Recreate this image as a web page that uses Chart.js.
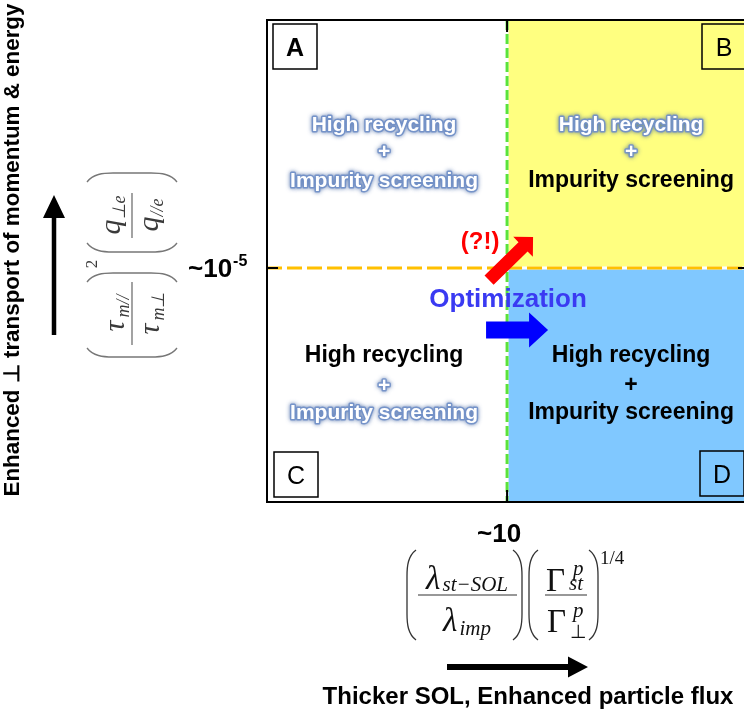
<!DOCTYPE html>
<html>
<head>
<meta charset="utf-8">
<script src="https://cdn.jsdelivr.net/npm/chart.js@4/dist/chart.umd.min.js"></script>
<style>
html,body{margin:0;padding:0;background:#fff;}
#wrap{width:744px;height:713px;position:relative;}
</style>
</head>
<body>
<div id="wrap"><canvas id="c" width="744" height="713"></canvas></div>
<script>
// ---- data ----
const xThreshold = 10;          // ~10
const yThreshold = 1e-5;        // ~10^-5
const xBounds = [0.97, 100];
const yBounds = [1e-7, 1.32e-3];
const quadrantIds = ['A', 'B', 'C', 'D'];
const quadrantTerms = ['High recycling', '+', 'Impurity screening'];
// 1 = emphasised (black), 0 = faded
const quadrantActive = [[0, 0, 0], [0, 0, 1], [1, 0, 0], [1, 1, 1]];
const quadrantColors = ['#ffffff', '#ffff80', '#ffffff', '#80c8ff'];
const xThresholdLabel = '~10';
const yThresholdLabel = ['~10', '-5'];
const yAxisTitle = 'Enhanced \u22A5 transport of momentum & energy';
const xAxisTitle = 'Thicker SOL, Enhanced particle flux';
const arrowLabels = ['(?!)', 'Optimization'];

const SANS = '"Liberation Sans", Arial, sans-serif';
const SERIF = '"Liberation Serif", "Times New Roman", serif';

function blockArrow(ctx, x1, y1, x2, y2, shaftW, headW, headL, color) {
  const dx = x2 - x1, dy = y2 - y1, L = Math.hypot(dx, dy);
  ctx.save();
  ctx.translate(x1, y1);
  ctx.rotate(Math.atan2(dy, dx));
  ctx.beginPath();
  ctx.moveTo(0, -shaftW / 2);
  ctx.lineTo(L - headL, -shaftW / 2);
  ctx.lineTo(L - headL, -headW / 2);
  ctx.lineTo(L, 0);
  ctx.lineTo(L - headL, headW / 2);
  ctx.lineTo(L - headL, shaftW / 2);
  ctx.lineTo(0, shaftW / 2);
  ctx.closePath();
  ctx.fillStyle = color;
  ctx.fill();
  ctx.restore();
}

function fadedText(ctx, t, x, y, size) {
  ctx.save();
  ctx.font = 'bold ' + size + 'px ' + SANS;
  ctx.textAlign = 'center';
  ctx.lineJoin = 'round';
  ctx.shadowColor = 'rgba(60,95,160,0.85)';
  ctx.shadowBlur = 4;
  ctx.strokeStyle = 'rgba(115,145,200,0.95)';
  ctx.lineWidth = 3;
  ctx.strokeText(t, x, y);
  ctx.shadowBlur = 0;
  ctx.shadowColor = 'rgba(0,0,0,0)';
  ctx.fillStyle = '#ffffff';
  ctx.fillText(t, x, y);
  ctx.restore();
}

function solidText(ctx, t, x, y, size) {
  ctx.save();
  ctx.font = 'bold ' + size + 'px ' + SANS;
  ctx.textAlign = 'center';
  ctx.fillStyle = '#000';
  ctx.fillText(t, x, y);
  ctx.restore();
}

// parts: [text, size, italic, dy, advance(optional, in em)]
function partWidth(ctx, p) {
  if (p[4] !== undefined) return p[4] * p[1];
  ctx.font = (p[2] ? 'italic ' : '') + p[1] + 'px ' + SERIF;
  return ctx.measureText(p[0]).width;
}
function drawRun(ctx, parts, cx, y) {
  let w = 0;
  for (const p of parts) w += partWidth(ctx, p);
  let x = cx - w / 2;
  ctx.textAlign = 'left';
  for (const p of parts) {
    const pw = partWidth(ctx, p);
    ctx.font = (p[2] ? 'italic ' : '') + p[1] + 'px ' + SERIF;
    ctx.fillText(p[0], x, y + (p[3] || 0));
    x += pw;
  }
}
function paren(ctx, x, yTop, yBot, dir, bulge) {
  ctx.beginPath();
  ctx.moveTo(x + dir * bulge, yTop);
  ctx.bezierCurveTo(x + dir * 1, yTop + 6, x, yTop + 16, x, yTop + 26);
  ctx.lineTo(x, yBot - 26);
  ctx.bezierCurveTo(x, yBot - 16, x + dir * 1, yBot - 6, x + dir * bulge, yBot);
  ctx.stroke();
}

const diagramPlugin = {
  id: 'diagram',
  afterDatasetsDraw(chart) {
    const ctx = chart.ctx;
    const a = chart.chartArea;
    const xs = chart.scales.x, ys = chart.scales.y;
    const mx = xs.getPixelForValue(xThreshold);
    const my = ys.getPixelForValue(yThreshold);
    ctx.save();
    ctx.textBaseline = 'alphabetic';

    // frame (right side runs off the page)
    ctx.strokeStyle = '#000';
    ctx.lineWidth = 2;
    ctx.beginPath();
    ctx.moveTo(a.right + 10, a.top);
    ctx.lineTo(a.left, a.top);
    ctx.lineTo(a.left, a.bottom);
    ctx.lineTo(a.right + 10, a.bottom);
    ctx.stroke();
    // inner tick marks at thresholds
    ctx.beginPath();
    ctx.moveTo(mx, a.top); ctx.lineTo(mx, a.top + 12);
    ctx.moveTo(mx, a.bottom); ctx.lineTo(mx, a.bottom - 12);
    ctx.moveTo(a.left, my); ctx.lineTo(a.left + 11, my);
    ctx.moveTo(a.right, my); ctx.lineTo(a.right - 6, my);
    ctx.stroke();

    // quadrant texts
    const cxL = (a.left + mx) / 2 - 3;
    const cxR = mx + 124;
    const topRows = [my - 137, my - 110, my - 81];
    const botRows = [my + 94, my + 124, my + 151];
    const anchors = [[cxL, topRows], [cxR, topRows], [cxL, botRows], [cxR, botRows]];
    quadrantIds.forEach((id, qi) => {
      const [cx, rows] = anchors[qi];
      quadrantTerms.forEach((t, ti) => {
        if (quadrantActive[qi][ti]) solidText(ctx, t, cx, rows[ti], 23);
        else fadedText(ctx, t, cx, rows[ti], 21);
      });
    });

    // corner label boxes
    const boxW = 44, boxH = 45;
    const boxes = [
      [a.left + 6, a.top + 4],
      [a.right - 42, a.top + 4],
      [a.left + 7, a.bottom - 50],
      [a.right - 44, a.bottom - 51]
    ];
    quadrantIds.forEach((id, i) => {
      const [bx, by] = boxes[i];
      ctx.lineWidth = 1.5;
      ctx.strokeStyle = '#000';
      ctx.strokeRect(bx, by, boxW, boxH);
      ctx.fillStyle = '#000';
      ctx.textAlign = 'center';
      ctx.font = (i === 0 ? 'bold ' : '') + '25px ' + SANS;
      ctx.fillText(id, bx + boxW / 2, by + boxH / 2 + 9);
    });

    // arrows in the plot
    blockArrow(ctx, mx - 18, my + 12, mx + 26, my - 31, 13, 28, 14, '#ff0000');
    blockArrow(ctx, mx - 21, my + 62, mx + 41, my + 62, 17, 35, 19, '#0000ff');
    ctx.textAlign = 'center';
    ctx.fillStyle = '#ff0000';
    ctx.font = 'bold 24px ' + SANS;
    ctx.fillText(arrowLabels[0], mx - 27, my - 19);
    ctx.fillStyle = '#3a3af2';
    ctx.font = 'bold 26px ' + SANS;
    ctx.fillText(arrowLabels[1], mx + 1, my + 39);

    // threshold labels
    ctx.fillStyle = '#000';
    ctx.textAlign = 'left';
    ctx.font = 'bold 26px ' + SANS;
    ctx.fillText(yThresholdLabel[0], 188, my + 9);
    const w10 = ctx.measureText(yThresholdLabel[0]).width;
    ctx.font = 'bold 16px ' + SANS;
    ctx.fillText(yThresholdLabel[1], 188 + w10 + 1, my - 2);
    ctx.textAlign = 'center';
    ctx.font = 'bold 26px ' + SANS;
    ctx.fillText(xThresholdLabel, mx - 8, a.bottom + 40);

    // y-axis title (fit to reference length)
    ctx.save();
    ctx.translate(19, 250);
    ctx.rotate(-Math.PI / 2);
    ctx.font = 'bold 23px ' + SANS;
    const tw = ctx.measureText(yAxisTitle).width;
    const fs = Math.min(23, 23 * 494 / tw);
    ctx.font = 'bold ' + fs.toFixed(1) + 'px ' + SANS;
    ctx.textAlign = 'center';
    ctx.fillText(yAxisTitle, 0, 0);
    ctx.restore();
    blockArrow(ctx, 54, 335, 54, 195, 4.5, 22, 23, '#000');

    // y formula (rotated)
    ctx.save();
    ctx.translate(132, 265);
    ctx.rotate(-Math.PI / 2);
    ctx.fillStyle = '#3a3a3a';
    ctx.strokeStyle = '#777';
    ctx.lineWidth = 1.3;
    paren(ctx, -92, -45, 45, 1, 9);
    paren(ctx, -8, -45, 45, -1, 9);
    paren(ctx, 13, -45, 45, 1, 9);
    paren(ctx, 92, -45, 45, -1, 9);
    ctx.lineWidth = 1.2;
    ctx.strokeStyle = '#666';
    ctx.beginPath();
    ctx.moveTo(-80, 0); ctx.lineTo(-17, 0);
    ctx.moveTo(27, 0); ctx.lineTo(72, 0);
    ctx.stroke();
    drawRun(ctx, [['\u03C4', 30, true, 0, 0.46], ['m//', 18, true, 5]], -48, -8);
    drawRun(ctx, [['\u03C4', 30, true, 0, 0.46], ['m\u22A5', 18, true, 5]], -48, 27);
    drawRun(ctx, [['q', 30, true, 0], ['\u22A5e', 18, true, 5]], 50, -12);
    drawRun(ctx, [['q', 30, true, 0], ['//e', 18, true, 5]], 50, 26);
    drawRun(ctx, [['2', 17, false, 0]], 1, -35);
    ctx.restore();

    // x formula
    ctx.save();
    ctx.fillStyle = '#111';
    ctx.strokeStyle = '#333';
    ctx.lineWidth = 1.3;
    paren(ctx, 407, 550, 640, 1, 9);
    paren(ctx, 522, 550, 640, -1, 9);
    paren(ctx, 529, 550, 640, 1, 9);
    paren(ctx, 598, 550, 640, -1, 9);
    ctx.lineWidth = 1.2;
    ctx.beginPath();
    ctx.moveTo(418, 595); ctx.lineTo(517, 595);
    ctx.moveTo(545, 595); ctx.lineTo(587, 595);
    ctx.stroke();
    drawRun(ctx, [['\u03BB', 33, true, 0, 0.5], ['st\u2212SOL', 21, true, 2]], 467, 589);
    drawRun(ctx, [['\u03BB', 33, true, 0, 0.5], ['imp', 21, true, 4]], 467, 631);
    ctx.textAlign = 'left';
    ctx.font = '33px ' + SERIF;
    ctx.fillText('\u0393', 546, 591);
    ctx.fillText('\u0393', 547, 632);
    ctx.font = 'italic 21px ' + SERIF;
    ctx.fillText('p', 573, 575);
    ctx.fillText('st', 569, 590);
    ctx.fillText('p', 573, 617);
    ctx.font = '19px ' + SERIF;
    ctx.fillText('\u22A5', 570, 638);
    ctx.fillText('1/4', 600, 564);
    ctx.restore();

    // x-axis title & arrow
    blockArrow(ctx, 447, 667, 588, 667, 6, 21, 20, '#000');
    ctx.fillStyle = '#000';
    ctx.textAlign = 'center';
    ctx.font = 'bold 24px ' + SANS;
    ctx.fillText(xAxisTitle, 528, 704);

    ctx.restore();
  }
};

const lineBase = { showLine: true, pointRadius: 0, borderCapStyle: 'butt', tension: 0 };

new Chart(document.getElementById('c'), {
  type: 'scatter',
  data: {
    datasets: [
      Object.assign({}, lineBase, {
        data: [{ x: xThreshold, y: yThreshold }, { x: xBounds[1], y: yThreshold }],
        fill: 'end', backgroundColor: quadrantColors[1], borderWidth: 0, order: 5
      }),
      Object.assign({}, lineBase, {
        data: [{ x: xThreshold, y: yThreshold }, { x: xBounds[1], y: yThreshold }],
        fill: 'start', backgroundColor: quadrantColors[3], borderWidth: 0, order: 5
      }),
      Object.assign({}, lineBase, {
        data: [{ x: xThreshold, y: yBounds[0] }, { x: xThreshold, y: yBounds[1] }],
        borderColor: '#ffffff', borderWidth: 3, fill: false, order: 4
      }),
      Object.assign({}, lineBase, {
        data: [{ x: xBounds[0], y: yThreshold }, { x: xBounds[1], y: yThreshold }],
        borderColor: '#ffffff', borderWidth: 3, fill: false, order: 4
      }),
      Object.assign({}, lineBase, {
        data: [{ x: xThreshold, y: yBounds[1] }, { x: xThreshold, y: yBounds[0] }],
        borderColor: '#5be33a', borderWidth: 3, borderDash: [10, 4], fill: false, order: 2
      }),
      Object.assign({}, lineBase, {
        data: [{ x: xBounds[0], y: yThreshold }, { x: xBounds[1], y: yThreshold }],
        borderColor: '#ffc000', borderWidth: 3, borderDash: [15, 5], fill: false, order: 1
      })
    ]
  },
  options: {
    responsive: false,
    animation: false,
    devicePixelRatio: 1,
    layout: { padding: { left: 267, top: 20, right: 0, bottom: 211 } },
    scales: {
      x: { type: 'logarithmic', min: xBounds[0], max: xBounds[1], display: false },
      y: { type: 'logarithmic', min: yBounds[0], max: yBounds[1], display: false }
    },
    plugins: { legend: { display: false }, tooltip: { enabled: false } },
    events: []
  },
  plugins: [diagramPlugin]
});
</script>
</body>
</html>
